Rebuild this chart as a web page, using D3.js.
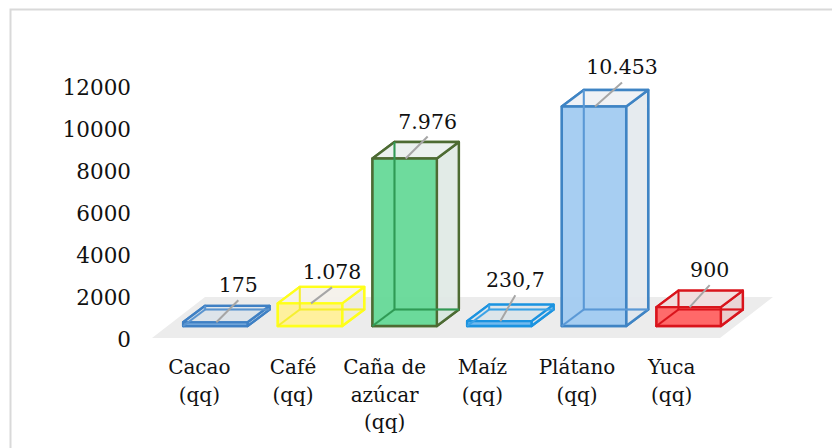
<!DOCTYPE html>
<html><head><meta charset="utf-8">
<script src="https://cdn.jsdelivr.net/npm/d3@7/dist/d3.min.js"></script>
<style>
html,body{margin:0;padding:0;background:#fff;overflow:hidden}
text{font-family:"DejaVu Serif","Liberation Serif",serif;fill:#111;font-size:20px}
text.val{font-size:20.5px}
.yax text{font-size:21.5px}
</style></head><body><svg id="c" width="832" height="448"></svg>
<script>
const categories=[["Cacao","(qq)"],["Café","(qq)"],["Caña de","azúcar","(qq)"],["Maíz","(qq)"],["Plátano","(qq)"],["Yuca","(qq)"]];
const values=[175,1078,7976,230.7,10453,900];
const valueLabels=["175","1.078","7.976","230,7","10.453","900"];
const yTicks=[0,2000,4000,6000,8000,10000,12000];
const strokeColors=["#3f80c4","#ffff1a","#4d6b33","#1b93e0","#3f84c4","#d9141c"];
const innerColors=["#5a94cf","#f5ee30","#2f9a55","#3aa2e6","#5a98d6","#d9141c"];
const frontFills=["#7fb0e0","#fff09a","#66d998","#6fb8ee","#a2cbf1","#ff6464"];
const sideFills=["#dfe6ec","#eeeadd","#dfe9e4","#dfe6ec","#e4e9ee","#e8cfcf"];
const topFills=["#dfe6ea","#f5f2ea","#eaf1ee","#dfe6ea","#eff2f5","#f2dcdc"];
const leaderRise=[22,16,22,26,24,22];
const leaderRun=[22,21,22,15,27,20];
const labelShift=[-16,-17,-20,-17,-17,-17];

const W=832,H=448;
const svg=d3.select("#c");
const m={left:168,right:736,floorY:326};
const x=d3.scaleBand().domain(d3.range(values.length)).range([m.left,m.right]).paddingInner(0.32).paddingOuter(0.16);
const y=d3.scaleLinear().domain([0,12000]).range([m.floorY,m.floorY-252]);
const dx=22,dy=-16.5;

svg.append("rect").attr("x",10.5).attr("y",9.5).attr("width",W+20).attr("height",H+20)
  .attr("fill","#fff").attr("stroke","#d9d9d9").attr("stroke-width",2);

svg.append("polygon").attr("points",[[205,297],[773,297],[720,338],[152,338]].join(" ")).attr("fill","#ececec");

const yAxis=d3.axisLeft(d3.scaleLinear().domain([0,12000]).range([340,88])).tickValues(yTicks).tickFormat(d3.format("d")).tickSize(0).tickPadding(0);
const ga=svg.append("g").attr("class","yax").attr("transform","translate(131,0)").call(yAxis);
ga.select(".domain").remove();
ga.attr("font-size",null).attr("font-family",null);
ga.selectAll("text").attr("fill",null);

const g=svg.selectAll("g.bar").data(values).join("g").attr("class","bar");
g.each(function(v,i){
  const s=d3.select(this),l=x(i),r=l+x.bandwidth(),b=y(0),t=y(v);
  const path=pts=>d3.line()(pts)+"Z";
  const c=strokeColors[i];
  const face=(pts,fill,op)=>s.append("path").attr("d",path(pts)).attr("fill",fill).attr("fill-opacity",op)
     .attr("stroke",c).attr("stroke-width",2.4).attr("stroke-linejoin","round");
  face([[l+dx,b+dy],[r+dx,b+dy],[r+dx,t+dy],[l+dx,t+dy]],"#e6ebee",0.55);
  face([[l,b],[l+dx,b+dy],[r+dx,b+dy],[r,b]],frontFills[i],0.35);
  face([[l,b],[l+dx,b+dy],[l+dx,t+dy],[l,t]],sideFills[i],0.4);
  face([[r,b],[r+dx,b+dy],[r+dx,t+dy],[r,t]],sideFills[i],0.8);
  face([[l,t],[l+dx,t+dy],[r+dx,t+dy],[r,t]],topFills[i],0.9);
  face([[l,b],[r,b],[r,t],[l,t]],frontFills[i],0.95);
  s.append("path").attr("d",d3.line()([[l+dx,t+dy],[l+dx,b+dy],[r+dx,b+dy]])).attr("fill","none")
   .attr("stroke",innerColors[i]).attr("stroke-width",2);
  s.append("path").attr("d",d3.line()([[l,b],[l+dx,b+dy]])).attr("fill","none")
   .attr("stroke",innerColors[i]).attr("stroke-width",2);
});

const cx=i=>x(i)+x.bandwidth()/2+1;
svg.selectAll("line.lead").data(values).join("line").attr("class","lead")
  .attr("x1",(d,i)=>cx(i)).attr("y1",d=>y(d))
  .attr("x2",(d,i)=>cx(i)+leaderRun[i]).attr("y2",(d,i)=>y(d)-leaderRise[i])
  .attr("stroke","#a6a6a6").attr("stroke-width",2);
svg.selectAll("text.val").data(values).join("text").attr("class","val")
  .attr("x",(d,i)=>cx(i)+leaderRun[i]).attr("y",(d,i)=>y(d)-leaderRise[i]-8)
  .attr("text-anchor","middle").text((d,i)=>valueLabels[i]);

const cat=svg.selectAll("text.cat").data(categories).join("text").attr("class","cat").attr("text-anchor","middle");
cat.each(function(lines,i){
  d3.select(this).selectAll("tspan").data(lines).join("tspan")
    .attr("x",x(i)+x.bandwidth()/2+labelShift[i])
    .attr("y",(d,k)=>374+k*27.5).text(d=>d);
});
</script></body></html>
